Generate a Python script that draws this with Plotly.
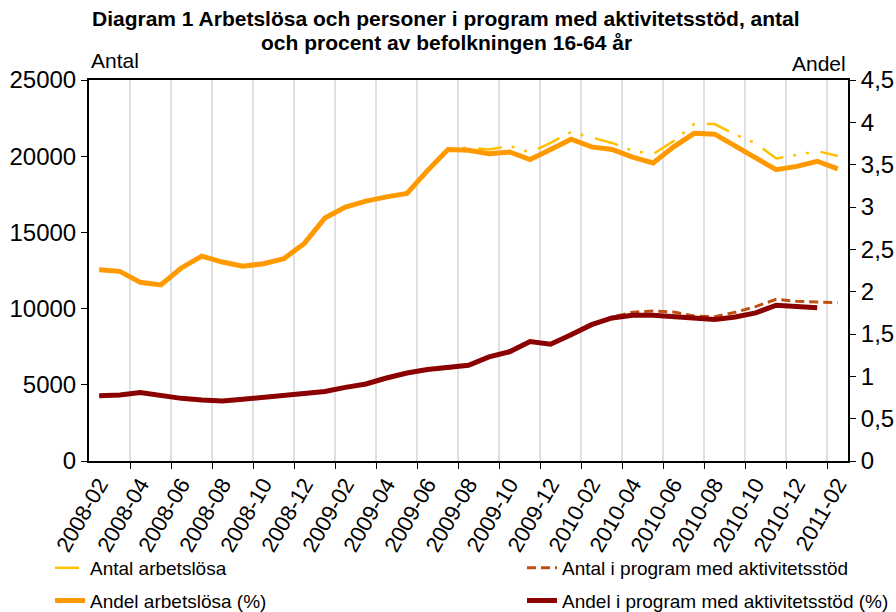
import plotly.graph_objects as go

months = ["2008-02", "2008-03", "2008-04", "2008-05", "2008-06", "2008-07", "2008-08",
          "2008-09", "2008-10", "2008-11", "2008-12", "2009-01", "2009-02", "2009-03",
          "2009-04", "2009-05", "2009-06", "2009-07", "2009-08", "2009-09", "2009-10",
          "2009-11", "2009-12", "2010-01", "2010-02", "2010-03", "2010-04", "2010-05",
          "2010-06", "2010-07", "2010-08", "2010-09", "2010-10", "2010-11", "2010-12",
          "2011-01", "2011-02"]

antal_arbetslosa = [12580, 12420, 11720, 11550, 12680, 13450, 13080, 12750, 12930, 13300,
                    14280, 15920, 16690, 17060, 17340, 17560, 19050, 20450, 20570, 20440,
                    20670, 20240, 20870, 21590, 21230, 20870, 20360, 20140, 21000, 22110,
                    22110, 21420, 20850, 19850, 20080, 20340, 20010]

antal_program = [4290, 4330, 4480, 4270, 4110, 4000, 3940, 4070, 4150, 4270,
                 4400, 4550, 4820, 5030, 5470, 5760, 6020, 6080, 6300, 6840,
                 7170, 7830, 7660, 8270, 8920, 9450, 9760, 9840, 9780, 9510,
                 9470, 9760, 10130, 10610, 10480, 10430, 10390]

andel_arbetslosa = [2.26, 2.24, 2.11, 2.08, 2.28, 2.42, 2.35, 2.30, 2.33, 2.39,
                    2.57, 2.87, 3.00, 3.07, 3.12, 3.16, 3.43, 3.68, 3.67, 3.63,
                    3.65, 3.56, 3.68, 3.80, 3.71, 3.68, 3.59, 3.52, 3.71, 3.87,
                    3.86, 3.72, 3.58, 3.44, 3.48, 3.54, 3.45]

andel_program = [0.77, 0.78, 0.81, 0.77, 0.74, 0.72, 0.71, 0.73, 0.75, 0.77,
                 0.79, 0.82, 0.87, 0.91, 0.98, 1.04, 1.08, 1.10, 1.13, 1.23,
                 1.29, 1.41, 1.38, 1.49, 1.61, 1.69, 1.72, 1.72, 1.70, 1.69,
                 1.67, 1.70, 1.75, 1.84, 1.82, 1.81, None]

left_ticks = [0, 5000, 10000, 15000, 20000, 25000]
right_ticks = [0, 0.5, 1, 1.5, 2, 2.5, 3, 3.5, 4, 4.5]

title_line1 = "Diagram 1 Arbetslösa och personer i program med aktivitetsstöd, antal"
title_line2 = "och procent av befolkningen 16-64 år"

x_idx = list(range(len(months)))
label_idx = x_idx[::2]
label_text = months[::2]
boundaries = [i + 1.5 for i in label_idx[:-1]]

FONT = "Liberation Sans, Arial, sans-serif"

fig = go.Figure()
fig.add_trace(go.Scatter(
    x=x_idx, y=antal_arbetslosa, name="Antal arbetslösa", mode="lines",
    line=dict(color="#FFC000", width=2.5, dash="24px,10px,3px,10px,3px,12px"),
    yaxis="y", legend="legend", legendgroup="a"))
fig.add_trace(go.Scatter(
    x=x_idx, y=antal_program, name="Antal i program med aktivitetsstöd", mode="lines",
    line=dict(color="#BE5014", width=3, dash="9px,5px"),
    yaxis="y", legend="legend2", legendgroup="c"))
fig.add_trace(go.Scatter(
    x=x_idx, y=andel_arbetslosa, name="Andel arbetslösa (%)", mode="lines",
    line=dict(color="#FF9900", width=5),
    yaxis="y2", legend="legend", legendgroup="b"))
fig.add_trace(go.Scatter(
    x=x_idx, y=andel_program, name="Andel i program med aktivitetsstöd (%)", mode="lines",
    line=dict(color="#8B0000", width=5),
    yaxis="y2", legend="legend2", legendgroup="d"))

legend_common = dict(
    orientation="v", xanchor="left", yanchor="top",
    xref="container", yref="container", y=0.103,
    traceorder="grouped", tracegroupgap=5,
    font=dict(family=FONT, size=19, color="black"),
    bgcolor="rgba(0,0,0,0)")

fig.update_layout(
    width=896, height=612,
    margin=dict(l=89, r=48, t=80, b=151, autoexpand=False),
    paper_bgcolor="white", plot_bgcolor="white",
    separators=", ",
    font=dict(family=FONT, size=17, color="black"),
    xaxis=dict(
        range=[-0.5, len(months) - 0.5], automargin=False,
        tickmode="array", tickvals=label_idx, ticktext=label_text,
        ticks="", tickangle=-60, showgrid=False, zeroline=False,
        showline=True, linecolor="black", linewidth=2, mirror=True,
        tickfont=dict(size=22),
        minor=dict(tickmode="array", tickvals=boundaries, ticks="outside",
                   ticklen=6, tickwidth=1, tickcolor="black",
                   showgrid=True, gridcolor="#E0E0E0", gridwidth=1.5)),
    yaxis=dict(
        range=[0, 25000], tickmode="array", tickvals=left_ticks, tickformat="d",
        ticks="outside", ticklen=6, tickcolor="black", automargin=False,
        showline=True, linecolor="black", linewidth=2,
        showgrid=False, zeroline=False, tickfont=dict(size=24)),
    yaxis2=dict(
        range=[0, 4.5], tickmode="array", tickvals=right_ticks,
        overlaying="y", side="right", automargin=False,
        ticks="outside", ticklen=6, tickcolor="black",
        showline=True, linecolor="black", linewidth=2,
        showgrid=False, zeroline=False, tickfont=dict(size=24)),
    legend=dict(x=0.0558, **legend_common),
    legend2=dict(x=0.5826, **legend_common),
    annotations=[
        dict(text="<b>" + title_line1 + "</b>", xref="paper", yref="paper",
             x=0.4704, y=1.1627, xanchor="center", yanchor="middle", showarrow=False,
             font=dict(family=FONT, size=21, color="black")),
        dict(text="<b>" + title_line2 + "</b>", xref="paper", yref="paper",
             x=0.4704, y=1.0997, xanchor="center", yanchor="middle", showarrow=False,
             font=dict(family=FONT, size=21, color="black")),
        dict(text="Antal", xref="paper", yref="paper", x=0.0, y=1.052,
             xanchor="left", yanchor="middle", showarrow=False,
             font=dict(family=FONT, size=21, color="black")),
        dict(text="Andel", xref="paper", yref="paper", x=1.0, y=1.042,
             xanchor="right", yanchor="middle", showarrow=False,
             font=dict(family=FONT, size=21, color="black")),
    ],
)

fig.write_html("out.html", config={"displayModeBar": False},
               post_script="document.body.style.margin='0';")
